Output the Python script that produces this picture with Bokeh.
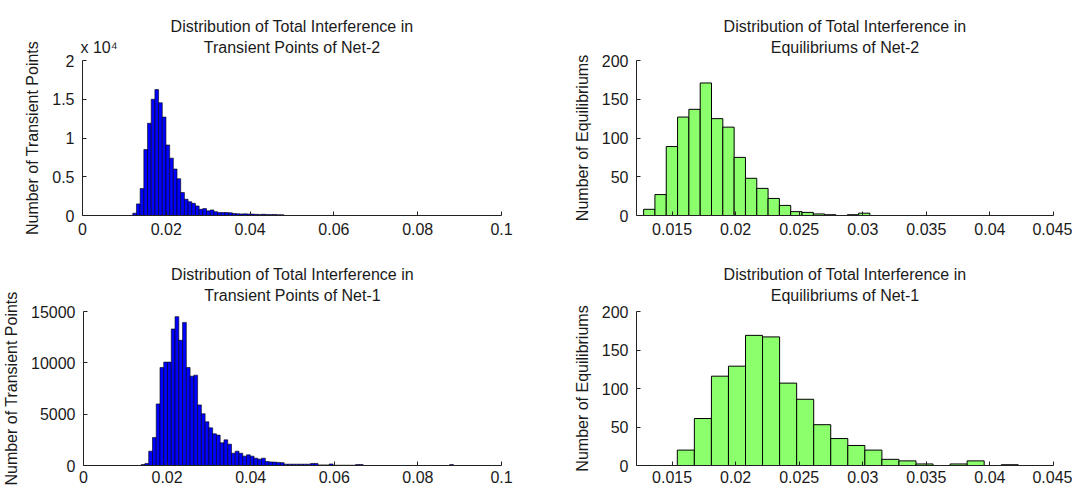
import numpy as np
from bokeh.plotting import figure
from bokeh.layouts import column, row
from bokeh.models import (FixedTicker, CustomJSTickFormatter, Range1d, ColumnDataSource,
                          Title, LinearAxis)
from bokeh.embed import file_html
from bokeh.resources import INLINE

# ---------------- data ----------------
# Net-2 transient points (top-left)
tl_bin_start = 0.0120
tl_bin_width = 0.00088
tl_counts = [300, 1500, 3480, 8520, 11900, 15000, 16250, 14550, 12700, 9100,
             7400, 6000, 4750, 2970, 2100, 1780, 1570, 1230, 800, 890,
             600, 720, 500, 380, 380, 380, 350, 250, 220, 200,
             210, 190, 180, 150, 140, 160, 130, 120, 140, 110, 100]

# Net-2 equilibriums (top-right)
tr_bin_start = 0.01276
tr_bin_width = 0.00089
tr_counts = [8, 27, 89, 127, 137, 171, 125, 114, 75, 48,
             35, 22, 13, 5, 4, 2, 1, 0, 1, 3]

# Net-1 transient points (bottom-left)
bl_bin_start = 0.0138
bl_bin_width = 0.0009
bl_counts = [100, 200, 1400, 2730, 6000, 9550, 10070, 10070, 13300, 14500,
             12200, 13940, 9550, 8700, 8800, 5900, 5040, 4260, 3670, 3090,
             2960, 2210, 2500, 2080, 1200, 1400, 1200, 910, 1040, 910,
             715, 620, 715, 390, 350, 330, 300, 280, 130, 130,
             130, 130, 130, 130, 130, 200, 200, 60, 60, 60,
             150, 30, 30, 30, 30, 30, 30, 100, 100, 0,
             0, 0, 0, 0, 0, 0, 0, 0, 0, 0,
             0, 0, 0, 0, 0, 0, 0, 0, 0, 0,
             0, 0, 100]

# Net-1 equilibriums (bottom-right)
br_bin_start = 0.01541
br_bin_width = 0.001341
br_counts = [20, 61, 116, 129, 169, 167, 107, 86, 53, 35,
             26, 20, 8, 6, 2, 0, 2, 6, 0, 1]

left_xticks = [0, 0.02, 0.04, 0.06, 0.08, 0.1]
right_xticks = [0.015, 0.02, 0.025, 0.03, 0.035, 0.04, 0.045]
tl_yticks = [0, 5000, 10000, 15000, 20000]
bl_yticks = [0, 5000, 10000, 15000]
eq_yticks = [0, 50, 100, 150, 200]

titles = [("Distribution of Total Interference in", "Transient Points of Net-2"),
          ("Distribution of Total Interference in", "Equilibriums of Net-2"),
          ("Distribution of Total Interference in", "Transient Points of Net-1"),
          ("Distribution of Total Interference in", "Equilibriums of Net-1")]
multiplier = "x 10\u2074"

LEFT_XR = (0, 0.1)
RIGHT_XR = (0.0122, 0.045)

BLUE = "#0000ff"
GREEN = "#8cff6c"
FONT = "Liberation Sans"
TXT = "#1a1a1a"

LW, RW = 570, 502
L_BORDERS = (82, 69)
R_BORDERS = (63, 19)


def make(title, counts, start, width, color, xr, xticks, yr, yticks, ylabel,
         w, h, borders, bt, bb, yfmt=None, lw=1.0, xstand=7, line2_stand=5,
         line1_stand=2, mult=None):
    p = figure(width=w, height=h, output_backend="svg", toolbar_location=None,
               title=None,
               x_range=Range1d(*xr), y_range=Range1d(*yr),
               min_border_left=borders[0], min_border_right=borders[1],
               min_border_top=bt, min_border_bottom=bb)
    n = len(counts)
    edges = start + width * np.arange(n)
    src = ColumnDataSource(dict(x=edges + width / 2, top=counts))
    p.vbar(x="x", top="top", width=width, bottom=0, source=src,
           fill_color=color, line_color="black", line_width=lw)
    p.grid.visible = False
    p.outline_line_color = None

    xax = p.below[0]
    yax = p.left[0]
    for ax in (xax, yax):
        ax.major_tick_in = 4
        ax.major_tick_out = 0
        ax.minor_tick_line_color = None
        ax.axis_line_color = "#222222"
        ax.major_tick_line_color = "#222222"
        ax.major_label_text_font = FONT
        ax.major_label_text_font_size = "16px"
        ax.major_label_text_color = TXT
        ax.axis_label_text_font = FONT
        ax.axis_label_text_font_size = "16px"
        ax.axis_label_text_font_style = "normal"
        ax.axis_label_text_color = TXT
    xax.ticker = FixedTicker(ticks=xticks)
    xax.formatter = CustomJSTickFormatter(code="return String(+tick.toFixed(4));")
    xax.major_label_standoff = xstand
    yax.ticker = FixedTicker(ticks=yticks)
    yax.formatter = CustomJSTickFormatter(code=yfmt or "return String(tick);")
    yax.major_label_standoff = 8
    yax.axis_label = ylabel
    yax.axis_label_standoff = 8

    # second title line (and the exponent multiplier) on a bare axis above
    frame_w = w - borders[0] - borders[1]
    head_ticks = [(xr[0] + xr[1]) / 2]
    head_labels = [title[1]]
    if mult is not None:
        head_ticks.insert(0, xr[0] + 16.5 / frame_w * (xr[1] - xr[0]))
        head_labels.insert(0, mult)
    head = LinearAxis(ticker=FixedTicker(ticks=head_ticks),
                      formatter=CustomJSTickFormatter(args=dict(labels=head_labels),
                                                      code="return labels[index];"),
                      axis_line_color=None, major_tick_line_color=None,
                      minor_tick_line_color=None,
                      major_tick_in=0, major_tick_out=0,
                      major_label_standoff=line2_stand,
                      major_label_text_font=FONT,
                      major_label_text_font_size="16px",
                      major_label_text_color=TXT)
    p.add_layout(head, "above")
    p.add_layout(Title(text=title[0], align="center", text_font=FONT,
                       text_font_size="16px", text_font_style="normal",
                       text_color=TXT, standoff=line1_stand), "above")
    return p


p1 = make(titles[0], tl_counts, tl_bin_start, tl_bin_width, BLUE, LEFT_XR, left_xticks,
          (0, 20000), tl_yticks, "Number of Transient Points",
          LW, 249, L_BORDERS, 60, 34, yfmt="return String(tick/1e4);", lw=0.6,
          mult=multiplier)
p2 = make(titles[1], tr_counts, tr_bin_start, tr_bin_width, GREEN, RIGHT_XR, right_xticks,
          (0, 200), eq_yticks, "Number of Equilibriums",
          RW, 249, R_BORDERS, 60, 34)
p3 = make(titles[2], bl_counts, bl_bin_start, bl_bin_width, BLUE, LEFT_XR, left_xticks,
          (0, 15000), bl_yticks, "Number of Transient Points",
          LW, 239, L_BORDERS, 62, 23, lw=0.6, xstand=5, line2_stand=8)
p4 = make(titles[3], br_counts, br_bin_start, br_bin_width, GREEN, RIGHT_XR, right_xticks,
          (0, 200), eq_yticks, "Number of Equilibriums",
          RW, 239, R_BORDERS, 62, 23, xstand=5, line2_stand=8)

layout = column(row(p1, p2), row(p3, p4))
open("out.html", "w").write(file_html(layout, INLINE))
